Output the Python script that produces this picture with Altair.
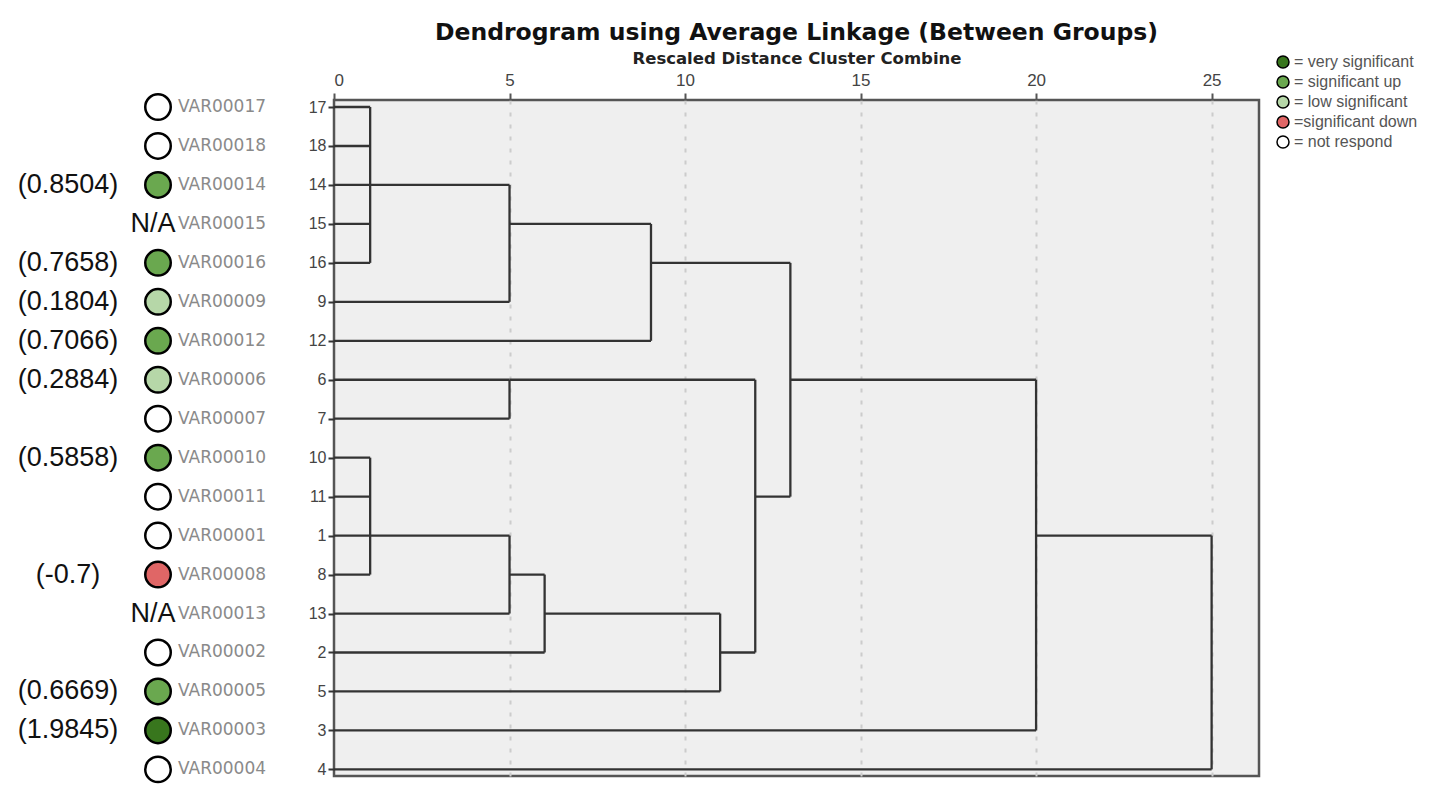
import altair as alt
import pandas as pd

# ---------------- data ----------------
leaf_ids = [17, 18, 14, 15, 16, 9, 12, 6, 7, 10, 11, 1, 8, 13, 2, 5, 3, 4]
leaf_names = ["VAR00017", "VAR00018", "VAR00014", "VAR00015", "VAR00016", "VAR00009",
              "VAR00012", "VAR00006", "VAR00007", "VAR00010", "VAR00011", "VAR00001",
              "VAR00008", "VAR00013", "VAR00002", "VAR00005", "VAR00003", "VAR00004"]
leaf_status = ["not respond", "not respond", "significant up", "N/A", "significant up",
               "low significant", "significant up", "low significant", "not respond",
               "significant up", "not respond", "not respond", "significant down", "N/A",
               "not respond", "significant up", "very significant", "not respond"]
leaf_value = [None, None, 0.8504, None, 0.7658, 0.1804, 0.7066, 0.2884, None,
              0.5858, None, None, -0.7, None, None, 0.6669, 1.9845, None]
# rescaled distance at which each leaf first joins a cluster
leaf_join = [1.03, 1.03, 1.03, 1.03, 1.03, 5.0, 9.03, 5.0, 5.0,
             1.03, 1.03, 1.03, 1.03, 5.0, 6.0, 11.0, 20.0, 25.0]

# merges: height, row span of the vertical link, row of outgoing branch, parent merge
merge_height = [1.03, 5.0, 9.03, 5.0, 1.03, 5.0, 6.0, 11.0, 12.0, 13.0, 20.0, 25.0]
merge_top = [0, 2, 3, 7, 9, 11, 12, 13, 7, 4, 7, 11]
merge_bottom = [4, 5, 6, 8, 12, 13, 14, 15, 14, 10, 16, 17]
merge_out = [2, 3, 4, 7, 11, 12, 13, 14, 10, 7, 11, -1]
merge_parent = [1, 2, 9, 8, 5, 6, 7, 8, 9, 10, 11, -1]

x_ticks = [0, 5, 10, 15, 20, 25]

status_names = ["very significant", "significant up", "low significant",
                "significant down", "not respond"]
status_labels = ["= very significant", "= significant up", "= low significant",
                 "=significant down", "= not respond"]
status_colors = ["#38761d", "#6aa84f", "#b6d7a8", "#e06666", "#ffffff"]

# ---------------- tables ----------------
segs = []
for i, h in enumerate(leaf_join):
    segs.append({"x": 0.0, "x2": h, "row": i, "row2": i})
for k, h in enumerate(merge_height):
    segs.append({"x": h, "x2": h, "row": merge_top[k], "row2": merge_bottom[k]})
    p = merge_parent[k]
    if p >= 0:
        segs.append({"x": h, "x2": merge_height[p], "row": merge_out[k], "row2": merge_out[k]})
seg_df = pd.DataFrame(segs)

leaf_df = pd.DataFrame({
    "row": list(range(len(leaf_ids))),
    "id": leaf_ids,
    "name": leaf_names,
    "status": leaf_status,
    "value": [("(" + str(v) + ")") if v is not None else "" for v in leaf_value],
})
label_expr = " : ".join(
    [f"datum.label == '{s}' ? '{l}'" for s, l in zip(status_names, status_labels)]
) + " : datum.label"

W, H = 925, 676
FONT = "Liberation Sans"

x_scale = alt.Scale(domain=[0, 26.35], nice=False, zero=False)
y_scale = alt.Scale(domain=[-0.18, 17.17], nice=False, zero=False, reverse=True)

id_expr = "[" + ",".join(f"'{i}'" for i in leaf_ids) + "][datum.value]"

y_axis = alt.Axis(
    values=list(range(len(leaf_ids))), labelExpr=id_expr, title=None,
    labelFont=FONT, labelFontSize=16, labelColor="#444444", labelPadding=2,
    tickSize=6, tickWidth=2, tickColor="#333333", domain=False, grid=False)
base_y = alt.Y("row:Q", scale=y_scale, axis=y_axis)

lines = alt.Chart(seg_df).mark_rule(color="#333333", strokeWidth=2.3).encode(
    x=alt.X("x:Q", scale=x_scale, axis=alt.Axis(
        orient="top", values=x_ticks, title="Rescaled Distance Cluster Combine",
        titleFont="DejaVu Sans", titleFontSize=16.5, titleFontWeight="bold",
        titleColor="#222222", titlePadding=5, labelFont=FONT, labelFontSize=17,
        labelColor="#444444", labelPadding=4, tickSize=7, tickWidth=2,
        tickColor="#555555", domain=False, grid=True, gridColor="#cccccc",
        gridWidth=2, gridDash=[4, 8],
        gridOpacity={"condition": {"test": "datum.value == 0", "value": 0}, "value": 1},
        format="d")),
    x2="x2:Q",
    y=base_y,
    y2="row2:Q",
)

circles = alt.Chart(leaf_df).transform_filter(
    "datum.status != 'N/A'"
).mark_point(shape="circle", filled=True, size=650, stroke="black",
             strokeWidth=2.5, opacity=1, strokeOpacity=1).encode(
    x=alt.value(-176),
    y=base_y,
    fill=alt.Fill("status:N", scale=alt.Scale(domain=status_names, range=status_colors),
                  legend=alt.Legend(
                      title=None, orient="none", legendX=941, legendY=-46,
                      labelExpr=label_expr, labelFont=FONT, labelFontSize=16,
                      labelColor="#555555", labelOffset=3, symbolType="circle",
                      symbolSize=144, symbolStrokeColor="black", symbolStrokeWidth=1.5,
                      rowPadding=2, padding=0)),
)

var_text = alt.Chart(leaf_df).mark_text(
    align="left", baseline="middle", font="DejaVu Sans", fontSize=17, color="#8a8a8a"
).encode(x=alt.value(-156), y=base_y, text="name:N")

val_text = alt.Chart(leaf_df).transform_filter("datum.value != ''").mark_text(
    align="center", baseline="middle", font=FONT, fontSize=27, color="#111111"
).encode(x=alt.value(-266), y=base_y, text="value:N")

na_text = alt.Chart(leaf_df).transform_filter("datum.status == 'N/A'").mark_text(
    align="center", baseline="middle", font=FONT, fontSize=27, color="#111111"
).encode(x=alt.value(-181), y=base_y, text="status:N")

chart = alt.layer(lines, circles, var_text, val_text, na_text).properties(
    width=W, height=H,
    title=alt.TitleParams("Dendrogram using Average Linkage (Between Groups)",
                          font="DejaVu Sans", fontSize=23.5, fontWeight="bold",
                          color="#111111", anchor="middle", offset=6),
    autosize=alt.AutoSizeParams(type="none"),
    padding={"left": 326, "top": 92, "right": 163, "bottom": 21},
).configure_view(fill="#efefef", stroke="#555555", strokeWidth=2.5)

chart.save("out.html", embed_options={"renderer": "svg", "actions": False})
